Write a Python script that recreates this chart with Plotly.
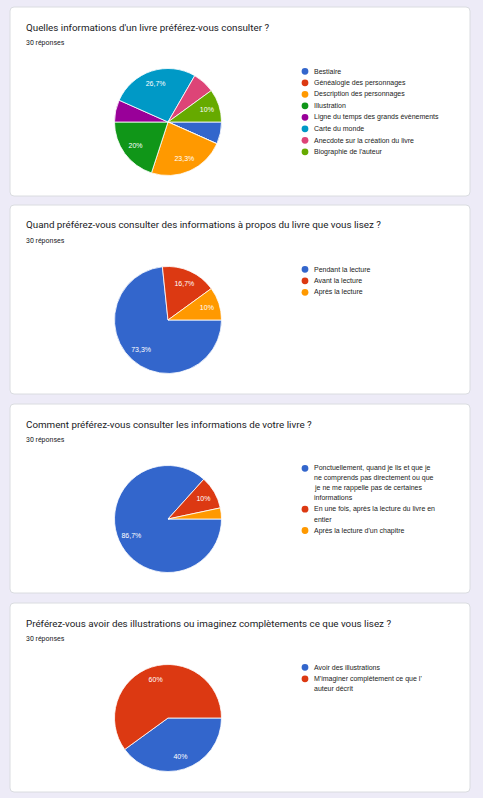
import plotly.graph_objects as go

# ---------------- data ----------------
titles = [
    "Quelles informations d'un livre préférez-vous consulter ?",
    "Quand préférez-vous consulter des informations à propos du livre que vous lisez ?",
    "Comment préférez-vous consulter les informations de votre livre ?",
    "Préférez-vous avoir des illustrations ou imaginez complètements ce que vous lisez ?",
]
subtitles = ["30 réponses", "30 réponses", "30 réponses", "30 réponses"]

q1_labels = ["Bestiaire", "Généalogie des personnages", "Description des personnages",
             "Illustration", "Ligne du temps des grands évènements", "Carte du monde",
             "Anecdote sur la création du livre", "Biographie de l'auteur"]
q1_values = [2, 0, 7, 6, 2, 8, 2, 3]

q2_labels = ["Pendant la lecture", "Avant la lecture", "Après la lecture"]
q2_values = [22, 5, 3]

q3_labels = ["Ponctuellement, quand je lis et que je<br>ne comprends pas directement ou que<br>je ne me rappelle pas de certaines<br>informations",
             "En une fois, après la lecture du livre en<br>entier",
             "Après la lecture d'un chapitre"]
q3_values = [26, 3, 1]

q4_labels = ["Avoir des illustrations", "M'imaginer complètement ce que l'<br>auteur décrit"]
q4_values = [12, 18]

palette = ["#3366cc", "#dc3912", "#ff9900", "#109618", "#990099", "#0099c6", "#dd4477", "#66aa00"]

# ---------------- layout ----------------
W, H = 483, 798
card_tops = [7, 205, 404, 603]
card_h = 189
card_x0, card_x1 = 10, 470
pie_cx, pie_r = 168, 53.5

questions = [(q1_labels, q1_values), (q2_labels, q2_values),
             (q3_labels, q3_values), (q4_labels, q4_values)]


def py(y):  # pixel-from-top -> paper
    return 1 - y / H


def px(x):
    return x / W


def pct_text(v, total):
    p = round(v / total * 100, 1)
    s = ("%.1f" % p).rstrip("0").rstrip(".")
    return s.replace(".", ",") + "%"


fig = go.Figure()
shapes = []
annotations = []

for i, (labels, values) in enumerate(questions):
    top = card_tops[i]
    total = sum(values)
    # card
    r = 4
    x0, x1, y0, y1 = card_x0, card_x1, top, top + card_h
    path = (f"M {px(x0 + r)},{py(y0)} L {px(x1 - r)},{py(y0)} "
            f"Q {px(x1)},{py(y0)} {px(x1)},{py(y0 + r)} L {px(x1)},{py(y1 - r)} "
            f"Q {px(x1)},{py(y1)} {px(x1 - r)},{py(y1)} L {px(x0 + r)},{py(y1)} "
            f"Q {px(x0)},{py(y1)} {px(x0)},{py(y1 - r)} L {px(x0)},{py(y0 + r)} "
            f"Q {px(x0)},{py(y0)} {px(x0 + r)},{py(y0)} Z")
    shapes.append(dict(type="path", path=path, xref="paper", yref="paper",
                       fillcolor="white", line=dict(color="#dadce0", width=1), layer="below"))
    # title
    annotations.append(dict(x=px(24), y=py(top + 20), xref="paper", yref="paper",
                            xanchor="left", yanchor="middle", showarrow=False,
                            text=titles[i], font=dict(family="Roboto", size=9.8, color="#202124")))
    annotations.append(dict(x=px(24), y=py(top + 36), xref="paper", yref="paper",
                            xanchor="left", yanchor="middle", showarrow=False,
                            text=subtitles[i], font=dict(family="Roboto", size=7, color="#202124")))
    # pie
    cy = top + 115
    dom = dict(x=[px(pie_cx - pie_r), px(pie_cx + pie_r)],
               y=[py(cy + pie_r), py(cy - pie_r)])
    fig.add_trace(go.Pie(
        labels=[l.replace("<br>", " ") for l in labels], values=values,
        textinfo="none",
        marker=dict(colors=palette[:len(values)], line=dict(color="white", width=0.8)),
        sort=False, direction="clockwise", rotation=90, domain=dom,
        showlegend=False, hoverinfo="label+percent",
    ))
    # percentage labels, placed in an outer transparent ring
    texts = [pct_text(v, total) if v / total >= 0.09 else "" for v in values]
    fig.add_trace(go.Pie(
        labels=[l.replace("<br>", " ") for l in labels], values=values,
        text=texts, textinfo="text", textposition="inside",
        insidetextorientation="horizontal", hole=0.5,
        textfont=dict(family="Arial, Liberation Sans", size=7, color="white"),
        marker=dict(colors=["rgba(0,0,0,0)"] * len(values), line=dict(width=0)),
        sort=False, direction="clockwise", rotation=90, domain=dom,
        showlegend=False, hoverinfo="skip",
    ))
    # legend
    ly = top + 64.3
    for j, lab in enumerate(labels):
        lines = lab.split("<br>")
        shapes.append(dict(type="circle", xref="paper", yref="paper",
                           x0=px(305 - 3.4), x1=px(305 + 3.4), y0=py(ly + 3.4), y1=py(ly - 3.4),
                           fillcolor=palette[j], line=dict(width=0)))
        for k, line in enumerate(lines):
            annotations.append(dict(x=px(311.5), y=py(ly + k * 9.8), xref="paper", yref="paper",
                                    xanchor="left", yanchor="middle", showarrow=False,
                                    text=line, font=dict(family="Arial, Liberation Sans", size=7,
                                                         color="#222222")))
        ly += len(lines) * 9.8 + 1.7

fig.update_layout(
    width=W, height=H, margin=dict(l=0, r=0, t=0, b=0),
    paper_bgcolor="#edebf7", plot_bgcolor="#edebf7",
    shapes=shapes, annotations=annotations, showlegend=False,
)

fig.write_html("out.html", config={"displayModeBar": False},
               post_script="document.body.style.margin='0';")
